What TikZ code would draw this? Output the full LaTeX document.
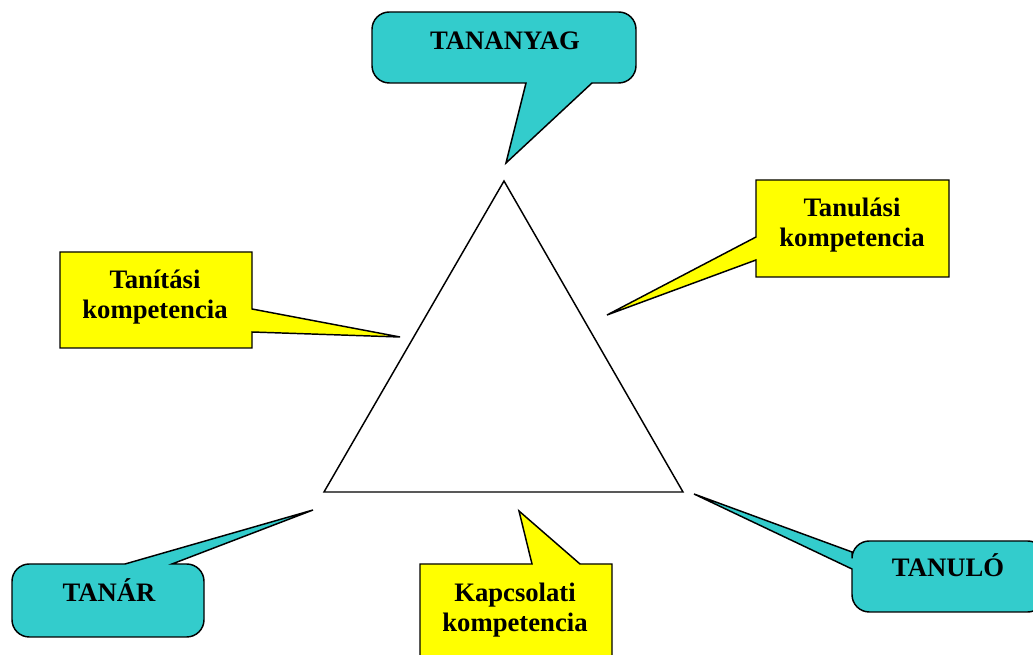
\documentclass[tikz,border=0pt]{standalone}
\usepackage{fontspec}
\setmainfont{Liberation Serif}
\usetikzlibrary{positioning}

\definecolor{calloutcyan}{HTML}{33CCCC}
\definecolor{calloutyellow}{HTML}{FFFF00}

\begin{document}
\begin{tikzpicture}[x=0.75pt,y=-0.75pt,line join=miter,
    bubble/.style={draw=black,fill=calloutcyan,line width=1.1pt},
    note/.style={draw=black,fill=calloutyellow,line width=1.1pt},
    label/.style={font=\fontsize{20}{22}\selectfont\bfseries,align=center,inner sep=0pt}]
  \useasboundingbox (0,0) rectangle (1033,655);
  \clip (0,0) rectangle (1033,655);

  % triangle
  \coordinate (top)   at (504,181);
  \coordinate (left)  at (324,492);
  \coordinate (right) at (683,492);
  \draw[line width=1.1pt] (top) -- (left) -- (right) -- cycle;

  % tips of the callouts
  \coordinate (tipA) at (506,163);
  \coordinate (tipB) at (313,510);
  \coordinate (tipC) at (694,494);
  \coordinate (tipD) at (519,511);
  \coordinate (tipE) at (400,337);
  \coordinate (tipF) at (607,315);

  % rounded callouts
  \path[bubble] [rounded corners=13pt] (526,83) -- (372,83) -- (372,12) -- (636,12) -- (636,83)
    [sharp corners] -- (592,83) -- (tipA) -- cycle;
  \path[bubble] [rounded corners=13pt] (172,564) -- (204,564) -- (204,637) -- (12,637) -- (12,564)
    [sharp corners] -- (125,564) -- (tipB) -- cycle;
  \path[bubble] [rounded corners=13pt] (852,569) -- (852,612) -- (1045,612) -- (1045,541) -- (852,541)
    [sharp corners] -- (852,552) -- (tipC) -- cycle;

  % square callouts
  \path[note] (532,564) -- (420,564) -- (420,670) -- (612,670) -- (612,564) -- (580,564) -- (tipD) -- cycle;
  \path[note] (252,309) -- (252,252) -- (60,252) -- (60,348) -- (252,348) -- (252,332) -- (tipE) -- cycle;
  \path[note] (756,260) -- (756,277) -- (949,277) -- (949,180) -- (756,180) -- (756,237) -- (tipF) -- cycle;

  % texts
  \node[label,anchor=base] (tananyag) at (505,50)  {TANANYAG};
  \node[label,anchor=base] (tanar)    at (109,602) {TANÁR};
  \node[label,anchor=base] (tanulo)   at (948,577) {TANULÓ};
  \node[label] (kapcsolati) at (515,610) {Kapcsolati\\kompetencia};
  \node[label] (tanitasi)   at (155,297) {Tanítási\\kompetencia};
  \node[label] (tanulasi)   at (852,225) {Tanulási\\kompetencia};
\end{tikzpicture}
\end{document}
